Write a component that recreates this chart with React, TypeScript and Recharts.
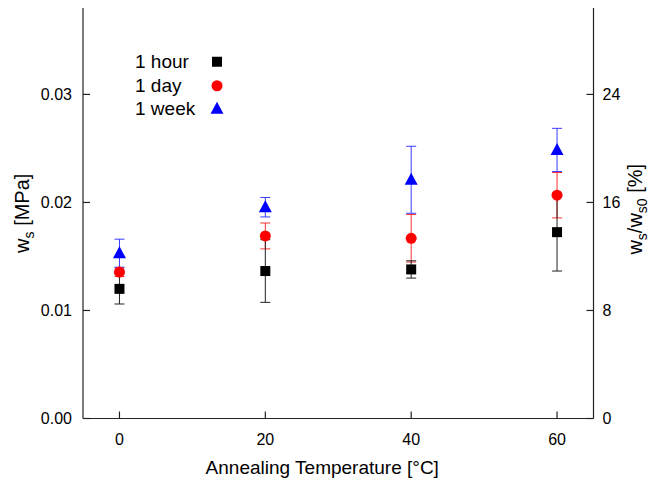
import React from 'react';
import { ScatterChart, Scatter, XAxis, YAxis, ErrorBar } from 'recharts';

// annealing temperatures [°C]
const temperatures = [0, 20, 40, 60];

// w_s [MPa] after 1 hour / 1 day / 1 week, with error bars
const hourValues = [0.012, 0.01365, 0.0138, 0.01725];
const hourErrors = [0.0014, 0.0029, 0.0008, 0.0036];
const dayValues = [0.01355, 0.0169, 0.01668, 0.02067];
const dayErrors = [0.0004, 0.0012, 0.0022, 0.0021];
const weekValues = [0.0153, 0.01956, 0.0221, 0.02486];
const weekErrors = [0.0013, 0.0009, 0.0031, 0.002];

const xTicks = [0, 20, 40, 60];
const leftTicks = [0, 0.01, 0.02, 0.03];
const rightTicks = [0, 8, 16, 24];

const FONT = '"Liberation Sans", Arial, sans-serif';

const toPoints = (values: number[], errors: number[]) =>
  temperatures.map((t, i) => ({ x: t, y: values[i], err: errors[i] }));

const Square = ({ cx, cy, fill }: any) => (
  <rect x={cx - 5} y={cy - 5} width={10} height={10} fill={fill} />
);
const Circle = ({ cx, cy, fill }: any) => <circle cx={cx} cy={cy} r={5.5} fill={fill} />;
const Triangle = ({ cx, cy, fill }: any) => (
  <polygon points={`${cx},${cy - 7} ${cx + 6.5},${cy + 5} ${cx - 6.5},${cy + 5}`} fill={fill} />
);

const series = [
  { name: '1 hour', values: hourValues, errors: hourErrors, color: '#000000', bar: '#222222', shape: Square },
  { name: '1 day', values: dayValues, errors: dayErrors, color: '#ff0000', bar: '#ff3030', shape: Circle },
  { name: '1 week', values: weekValues, errors: weekErrors, color: '#0000ff', bar: '#3a3aff', shape: Triangle },
];

// draw order: red, blue, then black on top
const drawOrder = [1, 2, 0];

const tickStyle = { fontSize: 16, fill: '#000', fontFamily: FONT };

const XTitle = ({ viewBox }: any) => (
  <text
    x={viewBox.x + viewBox.width / 2 - 16}
    y={viewBox.y + 55}
    textAnchor="middle"
    fontSize={19}
    fontFamily={FONT}
    fill="#000"
  >
    Annealing Temperature [°C]
  </text>
);

const LeftTitle = ({ viewBox }: any) => {
  const cy = viewBox.y + viewBox.height / 2;
  const x = 29;
  return (
    <text
      x={x}
      y={cy}
      transform={`rotate(-90, ${x}, ${cy})`}
      textAnchor="middle"
      fontSize={20}
      fontFamily={FONT}
      fill="#000"
    >
      w<tspan dy={5} fontSize={14}>s</tspan>
      <tspan dy={-5}> [MPa]</tspan>
    </text>
  );
};

const RightTitle = ({ viewBox }: any) => {
  const cy = viewBox.y + viewBox.height / 2 - 4;
  const x = 642;
  return (
    <text
      x={x}
      y={cy}
      transform={`rotate(-90, ${x}, ${cy})`}
      textAnchor="middle"
      fontSize={20}
      fontFamily={FONT}
      fill="#000"
    >
      w<tspan dy={5} fontSize={14}>s</tspan>
      <tspan dy={-5}>/w</tspan>
      <tspan dy={5} fontSize={14}>s0</tspan>
      <tspan dy={-5}> [%]</tspan>
    </text>
  );
};

const LegendBox = () => (
  <div
    style={{
      position: 'absolute',
      left: 135,
      top: 50,
      fontFamily: FONT,
      fontSize: 19,
      color: '#000',
    }}
  >
    {series.map((s) => {
      const Shape = s.shape;
      return (
        <div key={s.name} style={{ display: 'flex', alignItems: 'center', height: 23.5 }}>
          <span style={{ width: 72, lineHeight: '23.5px' }}>{s.name}</span>
          <svg width={20} height={23.5}>
            <Shape cx={10} cy={11.75} fill={s.color} />
          </svg>
        </div>
      );
    })}
  </div>
);

export default function App() {
  return (
    <div style={{ position: 'absolute', left: 0, top: 0, width: 651, height: 482, background: '#fff' }}>
      <ScatterChart width={651} height={482} margin={{ top: 8, right: 0, bottom: 0, left: 0 }}>
        <XAxis
          xAxisId="bottom"
          type="number"
          dataKey="x"
          domain={[-5, 65]}
          ticks={xTicks}
          allowDataOverflow
          height={63.5}
          tickSize={-7}
          tickMargin={22.5}
          tick={tickStyle}
          stroke="#222"
          strokeWidth={1.2}
          label={<XTitle />}
        />
        <XAxis
          xAxisId="top"
          orientation="top"
          type="number"
          dataKey="x"
          domain={[-5, 65]}
          ticks={xTicks}
          allowDataOverflow
          height={0}
          tickSize={-7}
          tick={false}
          stroke="#222"
          strokeWidth={1.2}
        />
        <YAxis
          yAxisId="left"
          type="number"
          dataKey="y"
          domain={[0, 0.038]}
          ticks={leftTicks}
          allowDataOverflow
          width={83}
          tickSize={-7}
          tickMargin={18}
          tick={tickStyle}
          tickFormatter={(v: number) => v.toFixed(2)}
          stroke="#222"
          strokeWidth={1.2}
          label={<LeftTitle />}
        />
        <YAxis
          yAxisId="right"
          orientation="right"
          type="number"
          domain={[0, 30.4]}
          ticks={rightTicks}
          allowDataOverflow
          width={57.5}
          tickSize={-7}
          tickMargin={16}
          tick={tickStyle}
          stroke="#222"
          strokeWidth={1.2}
          label={<RightTitle />}
        />
        {drawOrder.map((idx) => {
          const s = series[idx];
          const Shape = s.shape;
          return (
            <Scatter
              key={s.name}
              name={s.name}
              xAxisId="bottom"
              yAxisId="left"
              data={toPoints(s.values, s.errors)}
              fill={s.color}
              shape={(p: any) => <Shape cx={p.cx} cy={p.cy} fill={s.color} />}
              isAnimationActive={false}
            >
              <ErrorBar dataKey="err" direction="y" width={5} stroke={s.bar} strokeWidth={1} isAnimationActive={false} />
            </Scatter>
          );
        })}
      </ScatterChart>
      <LegendBox />
    </div>
  );
}
